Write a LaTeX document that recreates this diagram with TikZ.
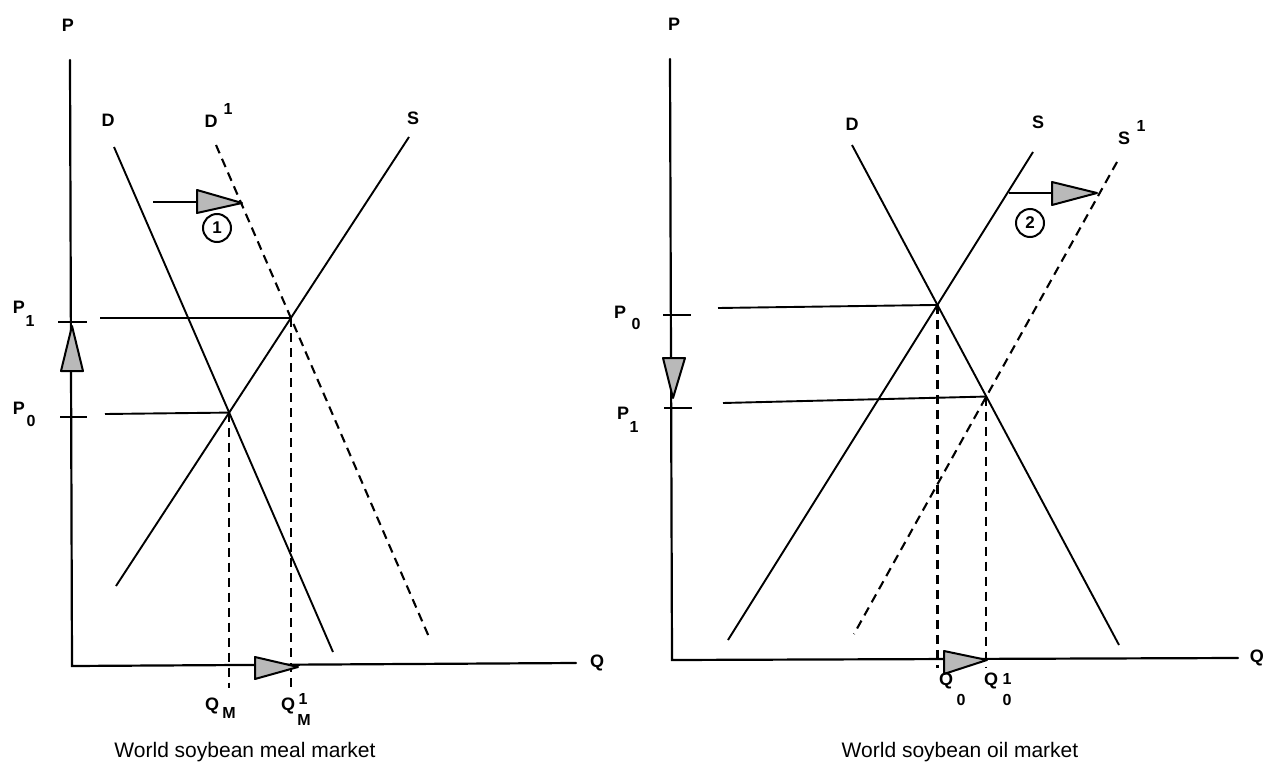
\documentclass[tikz,border=0pt]{standalone}
\usepackage{fontspec}
\setsansfont{Liberation Sans}
\begin{document}
\begin{tikzpicture}[x=1pt,y=-1pt,
  ax/.style={line width=2.2pt, line cap=round},
  cv/.style={line width=1.9pt},
  dsh/.style={line width=2.1pt, dash pattern=on 9pt off 6pt},
  tri/.style={draw, line width=2pt, fill=gray!55, line join=round},
  lab/.style={font=\sffamily\bfseries\fontsize{18}{20}\selectfont, inner sep=0pt},
  sml/.style={font=\sffamily\bfseries\fontsize{16}{18}\selectfont, inner sep=0pt},
  ttl/.style={font=\sffamily\fontsize{21}{24}\selectfont, inner sep=0pt},
  num/.style={circle, draw, line width=2pt, inner sep=0pt, minimum size=28pt,
    font=\sffamily\bfseries\fontsize{17}{19}\selectfont}]
\useasboundingbox (0,0) rectangle (1267,771);
\fill[white] (0,0) rectangle (1267,771);

% ================= LEFT PANEL =================
\coordinate (LPtop) at (70,60);
\coordinate (LO) at (72,666);
\coordinate (LQend) at (576,663);
\draw[ax] (LPtop) -- (LO) -- (LQend);
\node[lab] (LP) at (68,25) {P};
\node[lab] (LQ) at (597,663) {Q};

\coordinate (LDa) at (114,147);  \coordinate (LDb) at (333,652);
\coordinate (LD1a) at (216,145); \coordinate (LD1b) at (429,637);
\coordinate (LSa) at (409,137);  \coordinate (LSb) at (116,586);
\draw[cv] (LDa) -- (LDb);
\draw[dsh] (LD1a) -- (LD1b);
\draw[cv] (LSa) -- (LSb);
\node[lab] (LDl) at (108,120) {D};
\node[lab] (LD1l) at (211,121) {D};
\node[sml] (LD1s) at (228,109) {1};
\node[lab] (LSl) at (413,118) {S};

\coordinate (LE0) at (intersection of LDa--LDb and LSa--LSb);
\coordinate (LE1) at (intersection of LD1a--LD1b and LSa--LSb);
\coordinate (LP1s) at (100,318);
\coordinate (LP0s) at (105,414);
\draw[cv] (LP1s) -- (LE1);
\draw[cv] (LP0s) -- (LE0);

\coordinate (Lbot) at (0,688);
\draw[dsh] (LE0) -- (LE0 |- Lbot);
\draw[dsh] (LE1) -- (LE1 |- Lbot);

% ticks
\coordinate (LT1a) at (58,322); \coordinate (LT1b) at (87,322);
\coordinate (LT0a) at (60,417); \coordinate (LT0b) at (87,417);
\draw[cv] (LT1a) -- (LT1b);
\draw[cv] (LT0a) -- (LT0b);
\node[lab] (LP1) at (19,307) {P};
\node[sml] (LP1s1) at (30,321) {1};
\node[lab] (LP0) at (19,408) {P};
\node[sml] (LP0s0) at (31,421) {0};

% up arrow on price axis
\draw[tri] (61,371) -- (72,326) -- (83,371) -- cycle;

% shift arrow 1
\coordinate (LA1a) at (153,202); \coordinate (LA1b) at (197,202);
\draw[cv] (LA1a) -- (LA1b);
\draw[tri] (197,190) -- (242,203) -- (197,213) -- cycle;
\node[num] (N1) at (217,228) {1};

% quantity arrow
\draw[tri] (255,657) -- (298,667) -- (255,679) -- cycle;

% quantity labels
\node[lab] (LQM) at (212,706) {Q};
\node[sml] (LQMs) at (229,713) {M};
\node[lab] (LQM1) at (288,706) {Q};
\node[sml] (LQM1p) at (303,699) {1};
\node[sml] (LQM1s) at (304,720) {M};

\node[ttl] (LT) at (245,752) {World soybean meal market};

% ================= RIGHT PANEL =================
\coordinate (RPtop) at (670,59);
\coordinate (RO) at (672,660);
\coordinate (RQend) at (1238,658);
\draw[ax] (RPtop) -- (RO) -- (RQend);
\node[lab] (RP) at (674,24) {P};
\node[lab, anchor=east] (RQ) at (1264,658) {Q};

\coordinate (RDa) at (852,145);   \coordinate (RDb) at (1119,645);
\coordinate (RSa) at (1033,152);  \coordinate (RSb) at (728,640);
\coordinate (RS1a) at (1117,162); \coordinate (RS1b) at (854,634);
\draw[cv] (RDa) -- (RDb);
\draw[cv] (RSa) -- (RSb);
\draw[dsh] (RS1a) -- (RS1b);
\node[lab] (RDl) at (852,124) {D};
\node[lab] (RSl) at (1038,122) {S};
\node[lab] (RS1l) at (1124,138) {S};
\node[sml] (RS1s) at (1141,126) {1};

\coordinate (RE0) at (intersection of RDa--RDb and RSa--RSb);
\coordinate (RE1) at (intersection of RDa--RDb and RS1a--RS1b);
\coordinate (RP0s) at (718,308);
\coordinate (RP1s) at (723,403);
\draw[cv] (RP0s) -- (RE0);
\draw[cv] (RP1s) -- (RE1);

\coordinate (Rbot) at (0,668);
\draw[dsh] (RE0) -- (RE0 |- Rbot);
\draw[dsh] (RE1) -- (RE1 |- Rbot);

% ticks
\coordinate (RT0a) at (663,315); \coordinate (RT0b) at (691,315);
\coordinate (RT1a) at (664,408); \coordinate (RT1b) at (692,408);
\draw[cv] (RT0a) -- (RT0b);
\draw[cv] (RT1a) -- (RT1b);
\node[lab] (RP0) at (620,312) {P};
\node[sml] (RP0s0) at (636,324) {0};
\node[lab] (RP1) at (623,413) {P};
\node[sml] (RP1s1) at (634,427) {1};

% down arrow on price axis
\draw[tri] (663,358) -- (685,358) -- (673,398) -- cycle;

% shift arrow 2
\coordinate (RA2a) at (1009,193); \coordinate (RA2b) at (1052,193);
\draw[cv] (RA2a) -- (RA2b);
\draw[tri] (1052,182) -- (1097,193) -- (1052,205) -- cycle;
\node[num] (N2) at (1030,223) {2};

% quantity arrow
\draw[tri] (944,651) -- (987,660) -- (944,674) -- cycle;

% quantity labels
\node[lab] (RQ0) at (946,681) {Q};
\node[sml] (RQ0s) at (961,700) {0};
\node[lab] (RQ01) at (991,681) {Q};
\node[sml] (RQ01p) at (1007,679) {1};
\node[sml] (RQ01s) at (1007,700) {0};

\node[ttl] (RT) at (960,752) {World soybean oil market};
\end{tikzpicture}
\end{document}
